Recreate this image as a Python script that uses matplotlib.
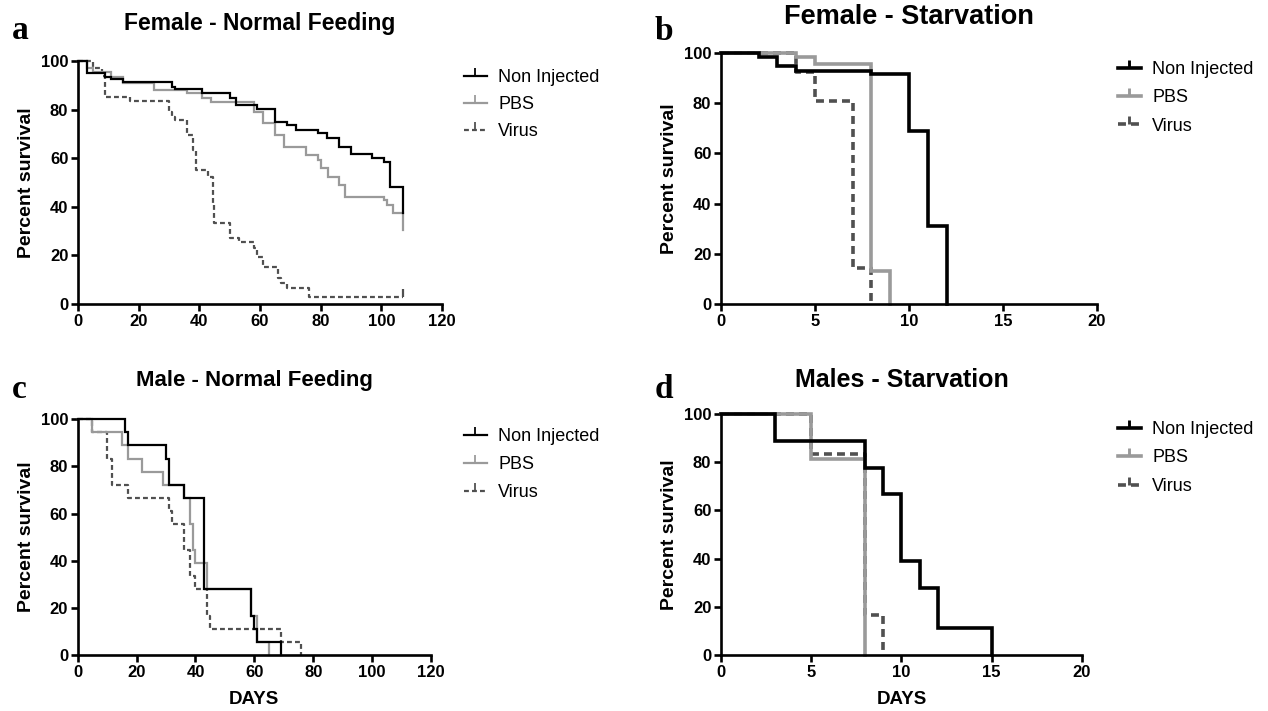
import matplotlib.pyplot as plt
from matplotlib.lines import Line2D

plt.rcParams["font.family"] = ["Liberation Sans", "DejaVu Sans"]

BLACK = "#000000"
PBS_GRAY = "#9a9a9a"
VIRUS_GRAY = "#505050"

# panel a: female, normal feeding (days, % survival after each step)
a_non_t = [0, 3, 9, 11, 15, 31, 32, 41, 50, 52, 59, 65, 69, 72, 79, 82, 86, 90, 97, 101, 103, 107]
a_non_s = [100, 95, 93.5, 92.5, 91.5, 89.5, 88.3, 86.7, 84.6, 81.9, 80.1, 75, 73.5, 71.6, 70.2, 68.5, 64.7, 61.6, 60.2, 58.6, 48.3, 37.3]
a_pbs_t = [0, 3, 5, 11, 15, 25, 36, 41, 44, 58, 61, 65, 68, 75, 79, 80, 82.5, 86, 88, 101, 102, 104, 107]
a_pbs_s = [100, 97, 95.5, 93.5, 90.8, 88, 86.7, 84.9, 83, 79.1, 74.6, 69.5, 64.5, 61.2, 59.3, 55.8, 52.4, 49, 44.2, 42.8, 40.7, 37.3, 30.4]
a_vir_t = [0, 5, 8, 9, 17, 30, 31, 32, 36, 38, 39, 43, 44.5, 45, 50, 53, 58, 59, 61, 66, 67, 69, 76, 107]
a_vir_s = [100, 97, 94, 85, 83.5, 79.1, 77.1, 75.7, 69.5, 63.4, 55.1, 52.4, 40.7, 33.2, 27, 25.6, 23, 19.5, 15.4, 10.6, 8.5, 6.4, 3, 3]

# panel b: female, starvation
b_non_t = [0, 2, 3, 4, 8, 10, 11, 12]
b_non_s = [100, 98.5, 95, 93, 91.5, 69, 31, 0]
b_pbs_t = [0, 4, 5, 8, 9]
b_pbs_s = [100, 98.5, 95.5, 13, 0]
b_vir_t = [0, 4, 5, 7, 8]
b_vir_s = [100, 92.5, 81, 14.5, 0]

# panel c: male, normal feeding
c_non_t = [0, 16, 17, 30, 31, 36, 43, 59, 60, 61, 69]
c_non_s = [100, 94.4, 88.9, 83.3, 72.2, 66.7, 27.8, 16.7, 11.1, 5.6, 0]
c_pbs_t = [0, 5, 15, 17, 22, 29, 36, 38, 39, 40, 44, 59, 61, 65]
c_pbs_s = [100, 94.4, 88.9, 83.3, 77.8, 72.2, 66.7, 55.6, 44.4, 38.9, 27.8, 16.7, 5.6, 0]
c_vir_t = [0, 5, 10, 11.5, 17, 31, 32, 36, 38, 40, 44, 45, 69, 76]
c_vir_s = [100, 94.4, 83.3, 72.2, 66.7, 61.1, 55.6, 44.4, 33.3, 27.8, 16.7, 11.1, 5.6, 0]

# panel d: males, starvation
d_non_t = [0, 3, 8, 9, 10, 11, 12, 15]
d_non_s = [100, 88.9, 77.8, 66.7, 38.9, 27.8, 11.1, 0]
d_pbs_t = [0, 5, 8]
d_pbs_s = [100, 81.3, 0]
d_vir_t = [0, 5, 8, 9]
d_vir_s = [100, 83.3, 16.7, 0]

labels = ["Non Injected", "PBS", "Virus"]

panels = [
    dict(rect=[0.0615, 0.5724, 0.2871, 0.3418], title="Female - Normal Feeding", tsize=16.5, tpad=22,
         letter="a", lpos=(0.0095, 0.945), xmax=120, xstep=20, lw=1.6, xlabel=None,
         data=[(a_non_t, a_non_s), (a_pbs_t, a_pbs_s), (a_vir_t, a_vir_s)],
         leg=(0.366, 0.903), lspace=0.55),
    dict(rect=[0.5686, 0.5724, 0.2965, 0.3530], title="Female - Starvation", tsize=19.5, tpad=21,
         letter="b", lpos=(0.516, 0.944), xmax=20, xstep=5, lw=2.6, xlabel=None,
         data=[(b_non_t, b_non_s), (b_pbs_t, b_pbs_s), (b_vir_t, b_vir_s)],
         leg=(0.8817, 0.914), lspace=0.62),
    dict(rect=[0.0613, 0.0788, 0.2786, 0.3315], title="Male - Normal Feeding", tsize=16, tpad=24,
         letter="c", lpos=(0.0095, 0.44), xmax=120, xstep=20, lw=1.6, xlabel="DAYS",
         data=[(c_non_t, c_non_s), (c_pbs_t, c_pbs_s), (c_vir_t, c_vir_s)],
         leg=(0.366, 0.398), lspace=0.62),
    dict(rect=[0.5686, 0.0788, 0.2847, 0.3389], title="Males - Starvation", tsize=18, tpad=19.5,
         letter="d", lpos=(0.516, 0.44), xmax=20, xstep=5, lw=2.6, xlabel="DAYS",
         data=[(d_non_t, d_non_s), (d_pbs_t, d_pbs_s), (d_vir_t, d_vir_s)],
         leg=(0.8817, 0.408), lspace=0.64),
]

fig = plt.figure(figsize=(12.68, 7.11), dpi=100)

for p in panels:
    ax = fig.add_axes(p["rect"])
    lw = p["lw"]
    styles = [
        dict(color=BLACK, lw=lw, ls="-"),
        dict(color=PBS_GRAY, lw=lw, ls="-"),
        dict(color=VIRUS_GRAY, lw=lw, ls=(0, (2.2, 1.4))),
    ]
    # draw virus first so the solid lines sit on top
    for (t, s), st in reversed(list(zip(p["data"], styles))):
        ax.step(t, s, where="post", clip_on=False, solid_joinstyle="miter", **st)
    if p["letter"] == "a":
        ax.plot([a_vir_t[-1]], [a_vir_s[-1]], marker=2, ms=6, mew=1.6, color=VIRUS_GRAY, clip_on=False)

    ax.set_xlim(0, p["xmax"])
    ax.set_ylim(0, 100)
    ax.set_xticks(range(0, p["xmax"] + 1, p["xstep"]))
    ax.set_yticks(range(0, 101, 20))
    for side in ("top", "right"):
        ax.spines[side].set_visible(False)
    for side in ("left", "bottom"):
        ax.spines[side].set_linewidth(1.9)
    ax.tick_params(width=1.9, length=5, labelsize=12, pad=2)
    for lab in ax.get_xticklabels() + ax.get_yticklabels():
        lab.set_fontweight("bold")
    ax.set_ylabel("Percent survival", fontsize=14, fontweight="bold", labelpad=4)
    if p["xlabel"]:
        ax.set_xlabel(p["xlabel"], fontsize=13.5, fontweight="bold", labelpad=8)
    ax.set_title(p["title"], fontsize=p["tsize"], fontweight="bold", pad=p["tpad"])
    fig.text(p["lpos"][0], p["lpos"][1], p["letter"], fontsize=24, fontweight="bold",
             family="Liberation Serif", va="baseline")

    handles = [Line2D([], [], marker=2, ms=6, mew=st["lw"] * 0.8, **st) for st in styles]
    ax.legend(handles, labels, loc="upper left", bbox_to_anchor=p["leg"], bbox_transform=fig.transFigure,
              frameon=False, fontsize=13, handlelength=1.25, handletextpad=0.65,
              labelspacing=p["lspace"], numpoints=1, borderpad=0, borderaxespad=0)

fig.savefig("out.png", dpi=100)
